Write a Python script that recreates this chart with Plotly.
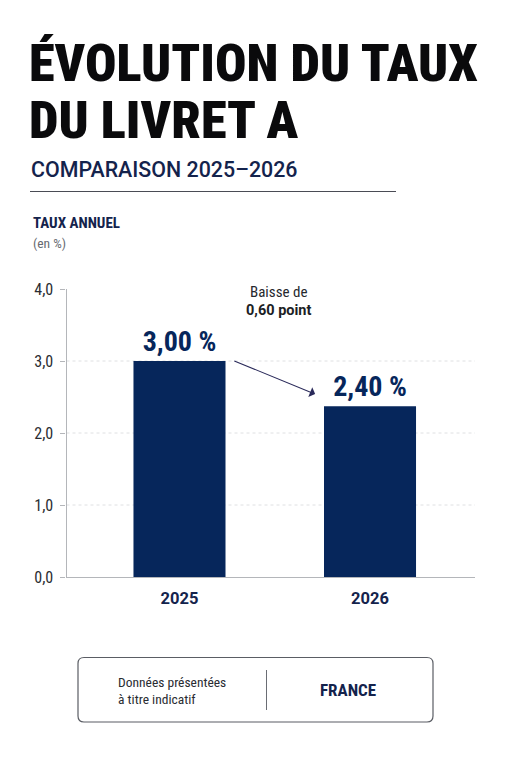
"""Livret A rate, 2025 against 2026."""

import plotly.graph_objects as go

WIDTH = 511
HEIGHT = 768
# the page body keeps an 8px margin, so the figure sits inside it
PAGE_MARGIN = 8
FIG_WIDTH = WIDTH - 2 * PAGE_MARGIN
FIG_HEIGHT = HEIGHT - 2 * PAGE_MARGIN

NAVY = "#06265b"
INK = "#0a0a0c"
DARK_BLUE = "#14234c"
AXIS_GREY = "#b4b6ba"
CONDENSED = "Roboto Condensed"

years = ["2025", "2026"]
rates = [3.0, 2.37]
rate_labels = ["3,00 %", "2,40 %"]
y_ticks = [0, 1, 2, 3, 4]
grid_levels = [1, 2, 3]


def px_x(x):
    return (x - PAGE_MARGIN) / FIG_WIDTH


def px_y(y):
    return 1 - (y - PAGE_MARGIN) / FIG_HEIGHT


def add_text(fig, x, y, text, size, color, family="Roboto", weight=400, anchor="left"):
    fig.add_annotation(
        xref="paper",
        yref="paper",
        x=px_x(x),
        y=px_y(y),
        text=text,
        showarrow=False,
        xanchor=anchor,
        yanchor="middle",
        align=anchor,
        borderpad=0,
        font=dict(family=family, size=size, color=color, weight=weight),
    )


def add_page_line(fig, x0, y0, x1, y1, color, width=1):
    fig.add_shape(
        type="line",
        xref="paper",
        yref="paper",
        x0=px_x(x0),
        y0=px_y(y0),
        x1=px_x(x1),
        y1=px_y(y1),
        line=dict(color=color, width=width),
    )


fig = go.Figure(
    go.Bar(
        x=years,
        y=rates,
        width=0.483,
        marker=dict(color=NAVY, line=dict(width=0)),
        text=rate_labels,
        textposition="outside",
        cliponaxis=False,
        textfont=dict(family=CONDENSED, size=28, color=NAVY, weight=700),
        hoverinfo="skip",
    )
)

for level in grid_levels:
    fig.add_hline(y=level, line=dict(color="#dfe0e2", width=1, dash="dot"), layer="below")

# heading block
add_text(fig, 28, 63, "ÉVOLUTION DU TAUX", 52.4, INK, family=CONDENSED, weight=900)
add_text(fig, 28, 120, "DU LIVRET A", 52.4, INK, family=CONDENSED, weight=900)
add_text(fig, 30, 169, "COMPARAISON 2025–2026", 21.4, DARK_BLUE, weight=500)
add_page_line(fig, 30, 191.5, 396, 191.5, "#4a4c55", 1.2)
add_text(fig, 32, 223, "TAUX ANNUEL", 15, DARK_BLUE, family=CONDENSED, weight=700)
add_text(fig, 32, 243, "(en %)", 13.5, "#666a70", family=CONDENSED)

# drop callout
add_text(fig, 278.5, 292, "Baisse de", 15, "#26282e", family=CONDENSED, anchor="center")
add_text(fig, 278.5, 310, "0,60 point", 14.5, "#1c1e24", weight=700, anchor="center")
fig.add_annotation(
    xref="x",
    yref="y",
    axref="x",
    ayref="y",
    x=0.712,
    y=2.54,
    ax=0.28,
    ay=3.01,
    text="",
    showarrow=True,
    arrowhead=1,
    arrowwidth=1.1,
    arrowsize=1.6,
    arrowcolor="#2a2a5a",
)

# footer box
fig.add_shape(
    type="path",
    xref="paper",
    yref="paper",
    path=(
        f"M {px_x(84)} {px_y(657.5)} L {px_x(427)} {px_y(657.5)} "
        f"Q {px_x(433)} {px_y(657.5)} {px_x(433)} {px_y(663.5)} "
        f"L {px_x(433)} {px_y(716)} Q {px_x(433)} {px_y(722)} {px_x(427)} {px_y(722)} "
        f"L {px_x(84)} {px_y(722)} Q {px_x(78)} {px_y(722)} {px_x(78)} {px_y(716)} "
        f"L {px_x(78)} {px_y(663.5)} Q {px_x(78)} {px_y(657.5)} {px_x(84)} {px_y(657.5)} Z"
    ),
    line=dict(color="#5a5d64", width=1.2),
)
add_page_line(fig, 266.5, 670, 266.5, 710, "#6a6d74", 1)
add_text(fig, 117, 682, "Données présentées", 13.5, "#2a2c32", family=CONDENSED)
add_text(fig, 117, 699, "à titre indicatif", 13.5, "#2a2c32", family=CONDENSED)
add_text(fig, 348, 690, "FRANCE", 17, DARK_BLUE, family=CONDENSED, weight=700, anchor="center")

fig.update_layout(
    width=FIG_WIDTH,
    height=FIG_HEIGHT,
    autosize=False,
    margin=dict(l=0, r=0, t=0, b=0),
    paper_bgcolor="white",
    plot_bgcolor="white",
    showlegend=False,
    separators=", ",
    xaxis=dict(
        automargin=False,
        domain=[px_x(66.5), px_x(475)],
        type="category",
        range=[-0.593, 1.551],
        showline=True,
        linecolor=AXIS_GREY,
        linewidth=1.2,
        showgrid=False,
        ticks="",
        ticklabelstandoff=6,
        tickfont=dict(family="Roboto", size=16.5, color=DARK_BLUE, weight=700),
    ),
    yaxis=dict(
        automargin=False,
        domain=[px_y(577), px_y(289)],
        range=[0, 4],
        tickvals=y_ticks,
        tickformat=".1f",
        showline=True,
        linecolor=AXIS_GREY,
        linewidth=1.2,
        showgrid=False,
        zeroline=False,
        ticks="outside",
        ticklen=5,
        tickcolor=AXIS_GREY,
        ticklabelstandoff=4,
        tickfont=dict(family=CONDENSED, size=16, color="#2a2c32"),
    ),
)

fig.write_html("out.html")
